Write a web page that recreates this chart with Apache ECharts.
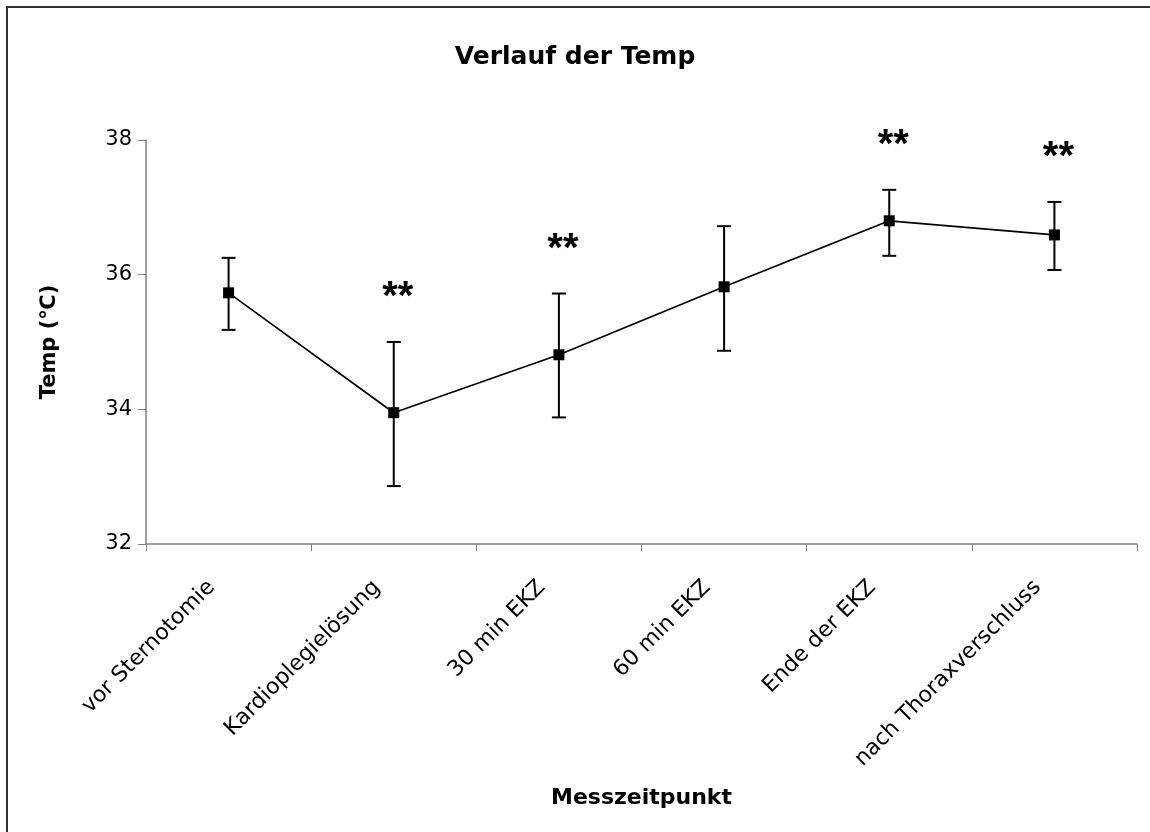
<!DOCTYPE html>
<html>
<head>
<meta charset="utf-8">
<script src="https://cdn.jsdelivr.net/npm/echarts@6/dist/echarts.min.js"></script>
<style>html,body{margin:0;padding:0;background:#fff}#c{width:1150px;height:832px}</style>
</head>
<body>
<div id="c"></div>
<script>
var categories = ['vor Sternotomie', 'Kardioplegielösung', '30 min EKZ', '60 min EKZ', 'Ende der EKZ', 'nach Thoraxverschluss'];
var meanTemp = [35.73, 33.95, 34.81, 35.82, 36.80, 36.59];
var errLow = [35.18, 32.86, 33.88, 34.87, 36.28, 36.07];
var errHigh = [36.25, 35.00, 35.72, 36.72, 37.26, 37.08];
var significance = ['', '**', '**', '', '**', '**'];
var yTicks = [32, 34, 36, 38];

var font = 'DejaVu Sans, Liberation Sans, Arial, sans-serif';
var starFont = 'Liberation Sans, Arial, sans-serif';
var errData = categories.map(function (c, i) { return [i, errLow[i], errHigh[i]]; });

var chart = echarts.init(document.getElementById('c'));
chart.setOption({
  animation: false,
  backgroundColor: '#fff',
  title: {
    text: 'Verlauf der Temp', left: 'center', top: 40,
    textStyle: { fontFamily: font, fontSize: 25, fontWeight: 'bold', color: '#000' }
  },
  graphic: [{
    type: 'rect', shape: { x: 7, y: 7, width: 1160, height: 840 },
    style: { fill: 'none', stroke: '#333', lineWidth: 2 }, silent: true, z: 100
  }],
  grid: { left: 146, right: 13, top: 140, bottom: 288 },
  xAxis: {
    type: 'category', data: categories, boundaryGap: true,
    name: 'Messzeitpunkt', nameLocation: 'middle', nameGap: 243,
    nameTextStyle: { fontFamily: font, fontSize: 22, fontWeight: 'bold', color: '#000' },
    axisLine: { lineStyle: { color: '#808080', width: 1.5 } },
    axisTick: { show: true, length: 7, inside: false, alignWithLabel: false, lineStyle: { color: '#808080' } },
    axisLabel: { rotate: 45, margin: 23, padding: [0, 24, 0, 0], fontFamily: font, fontSize: 22, color: '#000', interval: 0 }
  },
  yAxis: {
    type: 'value', min: yTicks[0], max: yTicks[yTicks.length - 1], interval: 2,
    name: 'Temp (℃)', nameLocation: 'middle', nameGap: 86,
    nameTextStyle: { fontFamily: font, fontSize: 21, fontWeight: 'bold', color: '#000' },
    axisLine: { show: true, lineStyle: { color: '#808080', width: 1.5 } },
    axisTick: { show: true, length: 8, lineStyle: { color: '#808080' } },
    splitLine: { show: false },
    axisLabel: { margin: 14, fontFamily: font, fontSize: 21, color: '#000' }
  },
  series: [{
    type: 'line', data: meanTemp, symbol: 'rect', symbolSize: 11,
    lineStyle: { color: '#000', width: 1.7 }, itemStyle: { color: '#000' }, z: 3
  }, {
    type: 'custom', data: errData, z: 2,
    renderItem: function (params, api) {
      var x = api.value(0);
      var lo = api.coord([x, api.value(1)]);
      var hi = api.coord([x, api.value(2)]);
      var sig = significance[params.dataIndex];
      var hw = 7;
      var st = { stroke: '#000', lineWidth: 2 };
      var children = [
        { type: 'line', shape: { x1: lo[0], y1: lo[1], x2: hi[0], y2: hi[1] }, style: st },
        { type: 'line', shape: { x1: lo[0] - hw, y1: lo[1], x2: lo[0] + hw, y2: lo[1] }, style: st },
        { type: 'line', shape: { x1: hi[0] - hw, y1: hi[1], x2: hi[0] + hw, y2: hi[1] }, style: st }
      ];
      if (sig) {
        children.push({
          type: 'text',
          style: { text: sig, x: hi[0] + 4, y: hi[1] - 44, align: 'center', verticalAlign: 'middle',
            font: 'bold 40px ' + starFont, fill: '#000' }
        });
      }
      return { type: 'group', children: children };
    }
  }]
});
</script>
</body>
</html>
